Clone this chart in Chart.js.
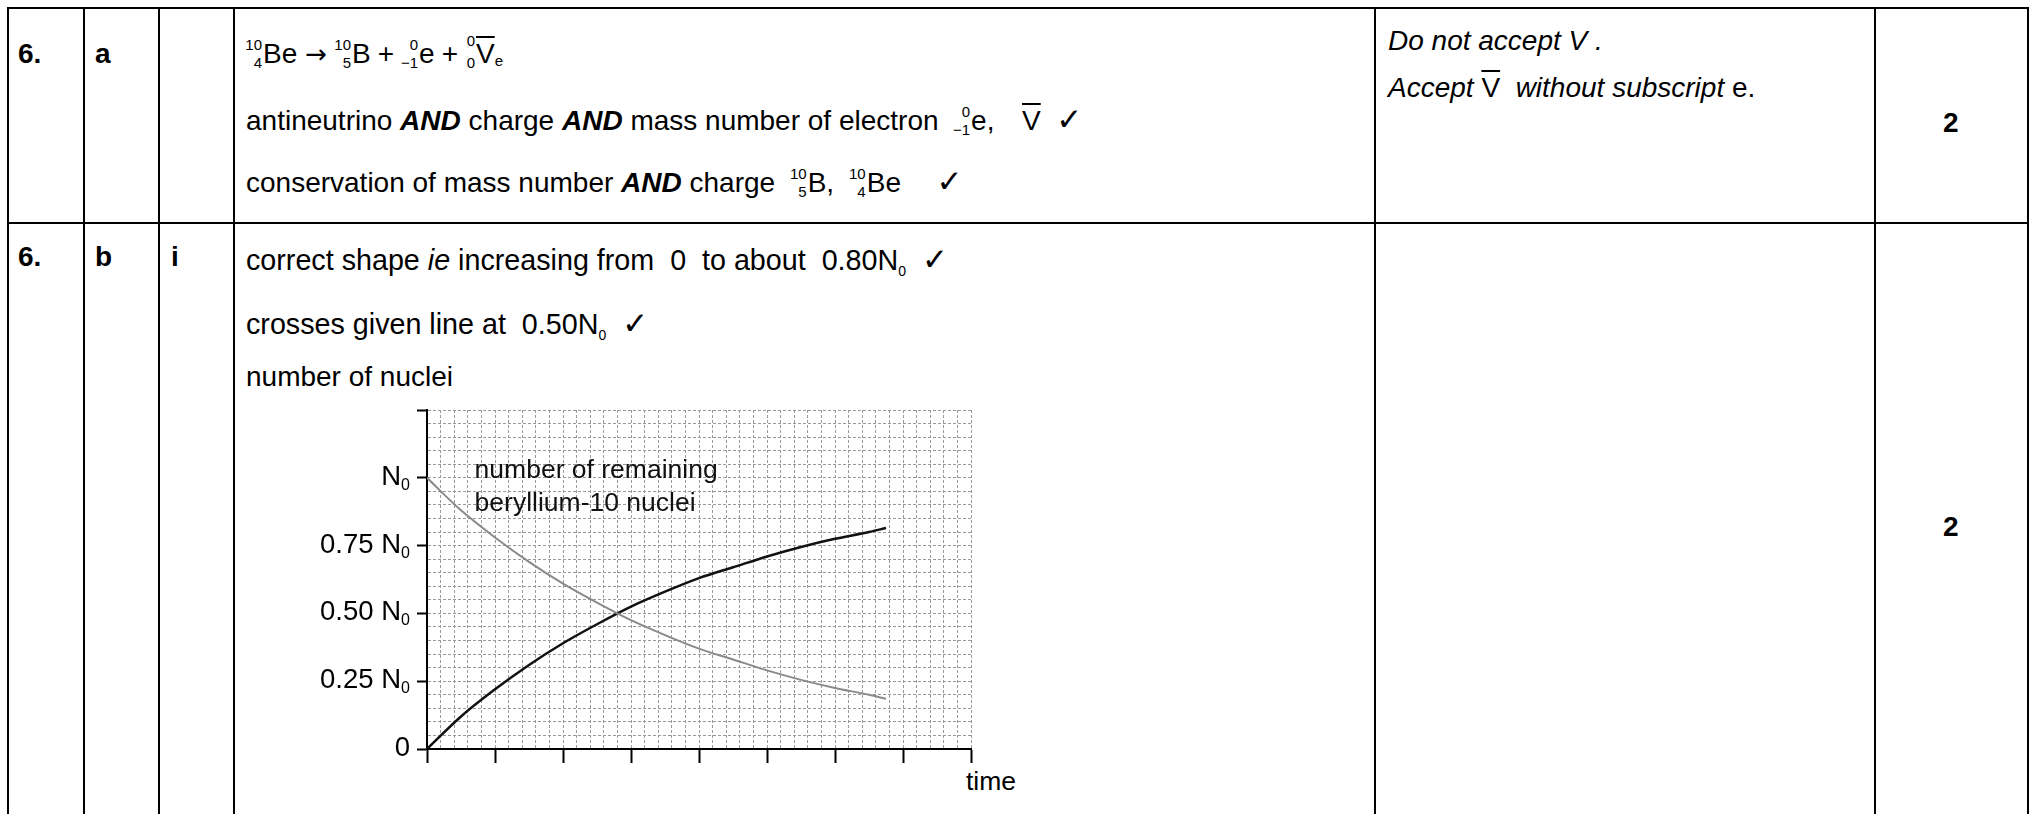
<!DOCTYPE html>
<html>
<head>
<meta charset="utf-8">
<script src="https://cdn.jsdelivr.net/npm/chart.js@4.4.0/dist/chart.umd.min.js"></script>
<style>
html,body{margin:0;padding:0;background:#fff;}
body{width:2031px;height:814px;overflow:hidden;position:relative;font-family:"Liberation Sans",Arial,Helvetica,sans-serif;color:#000;}
.hl{position:absolute;background:#000;height:2px;}
.vl{position:absolute;background:#000;width:2px;}
.t{position:absolute;white-space:nowrap;font-size:28px;line-height:1;}
.b{font-weight:bold;}
.i{font-style:italic;}
.nuc{display:inline-block;position:relative;height:0;}
.nuc span{position:absolute;right:1px;font-size:15px;line-height:15px;font-style:normal;font-weight:normal;}
.nuc .u{bottom:11px;}
.nuc .d{bottom:-7px;}
.ov{text-decoration:overline;text-decoration-thickness:2px;}
.sb{position:relative;top:6px;font-size:14px;}
.ck{font-family:"DejaVu Sans",sans-serif;font-weight:bold;font-size:31px;}
.ar{font-family:"DejaVu Sans",sans-serif;font-size:26px;margin:0 8px;}
.pl{margin:0 8px 0 7px;}
#wrap{position:absolute;left:300px;top:390px;width:722px;height:424px;}
</style>
</head>
<body>
<!-- table rules -->
<div class="hl" style="left:7px;top:7px;width:2022px"></div>
<div class="hl" style="left:7px;top:222px;width:2022px"></div>
<div class="vl" style="left:7px;top:7px;height:807px"></div>
<div class="vl" style="left:83px;top:7px;height:807px"></div>
<div class="vl" style="left:158px;top:7px;height:807px"></div>
<div class="vl" style="left:233px;top:7px;height:807px"></div>
<div class="vl" style="left:1374px;top:7px;height:807px"></div>
<div class="vl" style="left:1874px;top:7px;height:807px"></div>
<div class="vl" style="left:2027px;top:7px;height:807px"></div>

<!-- row a -->
<div class="t b" style="left:18px;top:calc(64px - 0.8465em)">6.</div>
<div class="t b" style="left:95px;top:calc(64px - 0.8465em)">a</div>
<div class="t" style="left:246px;top:calc(64px - 0.8465em)"><span class="nuc" style="width:17px"><span class="u">10</span><span class="d">4</span></span>Be<span class="ar">→</span><span class="nuc" style="width:17px"><span class="u">10</span><span class="d">5</span></span>B<span class="pl">+</span><span class="nuc" style="width:17px"><span class="u">0</span><span class="d">−1</span></span>e<span class="pl">+</span><span class="nuc" style="width:10px"><span class="u" style="bottom:15px">0</span><span class="d">0</span></span><span class="ov">V</span><span class="sb" style="top:3px;font-size:15px">e</span></div>
<div class="t" style="left:246px;top:calc(128px - 0.8465em)">antineutrino <b><i>AND</i></b> charge <b><i>AND</i></b> mass number of electron &nbsp;<span class="nuc" style="width:17px"><span class="u">0</span><span class="d">−1</span></span>e, &nbsp;<span class="ov" style="margin-left:12px">V</span> &nbsp;<span class="ck">✓</span></div>
<div class="t" style="left:246px;top:calc(190px - 0.8465em)">conservation of mass number <b><i>AND</i></b> charge &nbsp;<span class="nuc" style="width:17px"><span class="u">10</span><span class="d">5</span></span>B, &nbsp;<span class="nuc" style="width:17px"><span class="u">10</span><span class="d">4</span></span>Be &nbsp;<span class="ck" style="margin-left:20px">✓</span></div>
<div class="t i" style="left:1388px;top:calc(51px - 0.8465em)">Do not accept V .</div>
<div class="t" style="left:1388px;top:calc(98px - 0.8465em)"><i>Accept</i> <span class="ov">V</span> &nbsp;<i>without subscript</i> e.</div>
<div class="t b" style="left:1943px;top:calc(133px - 0.8465em)">2</div>

<!-- row b -->
<div class="t b" style="left:18px;top:calc(267px - 0.8465em)">6.</div>
<div class="t b" style="left:95px;top:calc(267px - 0.8465em)">b</div>
<div class="t b" style="left:171px;top:calc(267px - 0.8465em)">i</div>
<div class="t" style="left:246px;top:calc(268px - 0.8465em);font-size:28.7px">correct shape <i>ie</i> increasing from &nbsp;0 &nbsp;to about &nbsp;0.80N<span class="sb">0</span> &nbsp;<span class="ck">✓</span></div>
<div class="t" style="left:246px;top:calc(332px - 0.8465em);font-size:28.7px">crosses given line at &nbsp;0.50N<span class="sb">0</span> &nbsp;<span class="ck">✓</span></div>
<div class="t" style="left:246px;top:calc(387px - 0.8465em)">number of nuclei</div>
<div class="t b" style="left:1943px;top:calc(537px - 0.8465em)">2</div>
<div class="t" style="left:966px;top:calc(790px - 0.8465em);font-size:26.5px">time</div>

<div id="wrap"><canvas id="c"></canvas></div>

<script>
// ---- data ----
const timeValues = [0, 0.5, 1, 1.5, 2, 2.5, 3, 3.5, 4, 4.5, 5, 5.5, 6, 6.5, 6.75];
const berylliumRemaining = [1.00, 0.88, 0.78, 0.69, 0.61, 0.54, 0.475, 0.42, 0.37, 0.33, 0.29, 0.255, 0.225, 0.20, 0.185];
const boronFormed = [0.00, 0.12, 0.22, 0.31, 0.39, 0.46, 0.525, 0.58, 0.63, 0.67, 0.71, 0.745, 0.775, 0.80, 0.815];
const yTickValues = [0, 0.25, 0.5, 0.75, 1];
const yTickLabels = ['0', '0.25 N_0', '0.50 N_0', '0.75 N_0', 'N_0'];
const annotationLines = ['number of remaining', 'beryllium-10 nuclei'];

const FONT = '"Liberation Sans", Arial, sans-serif';
const isMajor = (v, step) => Math.abs(v / step - Math.round(v / step)) < 1e-6;

const yLabelPlugin = {
  id: 'yLabels',
  afterDraw(chart) {
    const ys = chart.scales.y, xs = chart.scales.x, ctx = chart.ctx;
    ctx.save();
    ctx.fillStyle = '#000';
    ctx.textBaseline = 'alphabetic';
    ctx.textAlign = 'right';
    yTickValues.forEach((v, i) => {
      const py = ys.getPixelForValue(v);
      const parts = yTickLabels[i].split('_');
      let right = chart.chartArea.left - 17;
      if (parts[1]) {
        ctx.font = '16px ' + FONT;
        ctx.fillText(parts[1], right, py + 12);
        right -= ctx.measureText(parts[1]).width;
      }
      ctx.font = '27.5px ' + FONT;
      ctx.fillText(parts[0], right, py + 7);
    });
    // annotation of the grey curve
    ctx.textAlign = 'left';
    ctx.textBaseline = 'middle';
    ctx.font = '26.5px ' + FONT;
    ctx.fillStyle = '#111';
    ctx.fillText(annotationLines[0], xs.getPixelForValue(0.7), ys.getPixelForValue(1.025));
    ctx.fillText(annotationLines[1], xs.getPixelForValue(0.7), ys.getPixelForValue(0.903));
    ctx.restore();
  }
};

new Chart(document.getElementById('c'), {
  type: 'line',
  data: {
    datasets: [
      {
        label: 'number of remaining beryllium-10 nuclei',
        data: timeValues.map((t, i) => ({x: t, y: berylliumRemaining[i]})),
        borderColor: '#8a8a8a',
        borderWidth: 2,
        pointRadius: 0,
        cubicInterpolationMode: 'monotone',
        fill: false
      },
      {
        label: 'number of boron-10 nuclei',
        data: timeValues.map((t, i) => ({x: t, y: boronFormed[i]})),
        borderColor: '#111',
        borderWidth: 2.5,
        pointRadius: 0,
        cubicInterpolationMode: 'monotone',
        fill: false
      }
    ]
  },
  options: {
    responsive: true,
    maintainAspectRatio: false,
    animation: false,
    events: [],
    layout: {padding: {top: 20, right: 51, left: 0, bottom: 0}},
    plugins: {legend: {display: false}, tooltip: {enabled: false}, title: {display: false}},
    scales: {
      x: {
        type: 'linear',
        min: 0, max: 8,
        ticks: {display: false, stepSize: 0.2, autoSkip: false},
        grid: {
          color: '#9a9a9a',
          lineWidth: 1,
          tickLength: 14,
          tickWidth: 2,
          tickColor: (c) => isMajor(c.tick.value, 1) ? '#000' : 'rgba(0,0,0,0)'
        },
        border: {display: true, color: '#000', width: 2, dash: [3, 2]},
        afterFit: (s) => { s.height = 65; }
      },
      y: {
        type: 'linear',
        min: 0, max: 1.25,
        ticks: {display: false, stepSize: 0.05, autoSkip: false},
        grid: {
          color: '#9a9a9a',
          lineWidth: 1,
          tickLength: 10,
          tickWidth: 2,
          tickColor: (c) => isMajor(c.tick.value, 0.25) ? '#000' : 'rgba(0,0,0,0)'
        },
        border: {display: true, color: '#000', width: 2, dash: [3, 2]},
        afterFit: (s) => { s.width = 127; }
      }
    }
  },
  plugins: [yLabelPlugin]
});
</script>
</body>
</html>
